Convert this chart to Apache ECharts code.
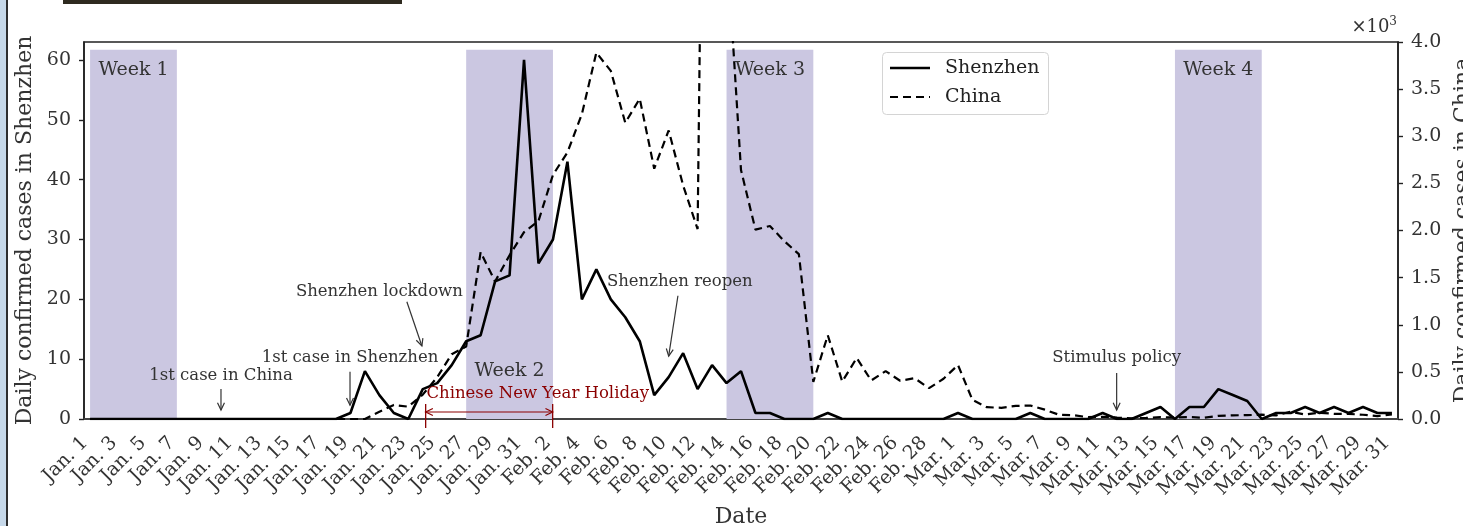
<!DOCTYPE html>
<html><head><meta charset="utf-8">
<script src="https://cdn.jsdelivr.net/npm/echarts@6/dist/echarts.min.js"></script>
<style>html,body{margin:0;padding:0;background:#fff;overflow:hidden}#c{width:1463px;height:526px}</style>
</head><body><div id="c"></div>
<script>
// ---------- data ----------
const dates = [
 'Jan. 1','Jan. 2','Jan. 3','Jan. 4','Jan. 5','Jan. 6','Jan. 7','Jan. 8','Jan. 9','Jan. 10',
 'Jan. 11','Jan. 12','Jan. 13','Jan. 14','Jan. 15','Jan. 16','Jan. 17','Jan. 18','Jan. 19','Jan. 20',
 'Jan. 21','Jan. 22','Jan. 23','Jan. 24','Jan. 25','Jan. 26','Jan. 27','Jan. 28','Jan. 29','Jan. 30','Jan. 31',
 'Feb. 1','Feb. 2','Feb. 3','Feb. 4','Feb. 5','Feb. 6','Feb. 7','Feb. 8','Feb. 9','Feb. 10',
 'Feb. 11','Feb. 12','Feb. 13','Feb. 14','Feb. 15','Feb. 16','Feb. 17','Feb. 18','Feb. 19','Feb. 20',
 'Feb. 21','Feb. 22','Feb. 23','Feb. 24','Feb. 25','Feb. 26','Feb. 27','Feb. 28','Feb. 29',
 'Mar. 1','Mar. 2','Mar. 3','Mar. 4','Mar. 5','Mar. 6','Mar. 7','Mar. 8','Mar. 9','Mar. 10',
 'Mar. 11','Mar. 12','Mar. 13','Mar. 14','Mar. 15','Mar. 16','Mar. 17','Mar. 18','Mar. 19','Mar. 20',
 'Mar. 21','Mar. 22','Mar. 23','Mar. 24','Mar. 25','Mar. 26','Mar. 27','Mar. 28','Mar. 29','Mar. 30','Mar. 31'
];
const tickDays = [0,2,4,6,8,10,12,14,16,18,20,22,24,26,28,30,32,34,36,38,40,42,44,46,48,50,52,54,56,58,60,62,64,66,68,70,72,74,76,78,80,82,84,86,88,90];
const leftTicks = [0,10,20,30,40,50,60];
const shenzhen = [
 0,0,0,0,0,0,0,0,0,0, 0,0,0,0,0,0,0,0,1,8,
 4,1,0,5,6,9,13,14,23,24, 60,26,30,43,20,25,20,17,13,4,
 7,11,5,9,6,8,1,1,0,0, 0,1,0,0,0,0,0,0,0,0,
 1,0,0,0,0,1,0,0,0,0, 1,0,0,1,2,0,2,2,5,4,
 3,0,1,1,2,1,2,1,2,1, 1
];
const china = [
 0,0,0,0,0,0,0,0,0,0, 0,0,0,0,0,0,0,0,0,0,
 77,149,131,259,444,688,769,1771,1459,1737, 1982,2102,2590,2829,3235,3887,3694,3143,3399,2656,
 3062,2478,2015,15152,5090,2641,2009,2048,1886,1749, 394,889,397,648,409,508,406,433,327,427,
 573,202,125,119,139,143,99,44,40,19, 24,15,8,11,20,16,21,13,34,39,
 41,46,39,78,47,67,55,54,45,31, 48
];
const weekNames = ['Week 1','Week 2','Week 3','Week 4'];
const weekStartDay = [0,26,44,75];
const weekEndDay = [6,32,50,81];
const seriesNames = ['Shenzhen','China'];

// ---------- chart ----------
const FF = "'DejaVu Serif', serif";
const TXT = '#333';
const chart = echarts.init(document.getElementById('c'), null, {renderer:'canvas'});

const bandTop = 61.7;
const areas = weekNames.map((n,i)=>[
  {name:n, coord:[weekStartDay[i],0],
   label: i===1 ? {position:'insideBottom', distance:38} : {position:'insideTop', distance:11}},
  {coord:[weekEndDay[i],bandTop]}
]);
const chinaDash = [8,5];

chart.setOption({
  animation:false,
  backgroundColor:'#fff',
  grid:{left:84, right:65, top:42, bottom:107, containLabel:false, outerBoundsMode:'none',
        show:true, borderColor:'#222', borderWidth:1.6, backgroundColor:'rgba(0,0,0,0)'},
  xAxis:{
    type:'value', min:-0.42, max:90.42,
    axisLine:{show:true, onZero:false, lineStyle:{color:'#444', width:2}},
    axisTick:{show:false},
    splitLine:{show:false},
    axisLabel:{customValues:tickDays, formatter:v=>dates[v], rotate:45, fontFamily:FF, fontSize:19, color:TXT, margin:16, padding:[0,7,0,0]},
    name:'Date', nameLocation:'middle', nameGap:86,
    nameTextStyle:{fontFamily:FF, fontSize:22, color:TXT}
  },
  yAxis:[{
    type:'value', min:0, max:63, position:'left',
    axisLine:{show:true, onZero:false, lineStyle:{color:'#222', width:1.6}},
    axisTick:{show:true, inside:false, length:5, customValues:leftTicks, lineStyle:{color:'#222', width:1.4}},
    axisLabel:{customValues:leftTicks, fontFamily:FF, fontSize:19, color:TXT, margin:13},
    splitLine:{show:false},
    name:'Daily confirmed cases in Shenzhen', nameLocation:'middle', nameGap:38,
    nameTextStyle:{fontFamily:FF, fontSize:22, color:TXT}
  },{
    type:'value', min:0, max:4000, interval:500, position:'right',
    axisLine:{show:true, onZero:false, lineStyle:{color:'#222', width:1.6}},
    axisTick:{show:true, inside:false, length:5, lineStyle:{color:'#222', width:1.4}},
    axisLabel:{formatter:v=>(v/1000).toFixed(1), fontFamily:FF, fontSize:19, color:TXT, margin:13},
    splitLine:{show:false},
    name:'Daily confirmed cases in China', nameLocation:'middle', nameGap:54, nameRotate:90,
    nameTextStyle:{fontFamily:FF, fontSize:22, color:TXT}
  }],
  series:[{
    name:seriesNames[0], type:'line', yAxisIndex:0, symbol:'none', showSymbol:false, z:4,
    data:shenzhen.map((v,i)=>[i,v]),
    lineStyle:{color:'#000', width:2.6}, itemStyle:{color:'#000'},
    markArea:{silent:true, z:1, itemStyle:{color:'#cbc7e1'},
      label:{fontFamily:FF, fontSize:19, color:TXT},
      data:areas}
  },{
    name:seriesNames[1], type:'line', yAxisIndex:1, symbol:'none', showSymbol:false, z:3,
    data:china.map((v,i)=>[i,v]),
    lineStyle:{color:'#000', width:2.2, type:chinaDash}, itemStyle:{color:'#000'}
  }]
});

// ---------- annotations (anchored in data space of the left axis) ----------
function P(d,v){ return chart.convertToPixel({xAxisIndex:0, yAxisIndex:0},[d,v]); }
function head(tip, from, color, w){
  const ang = Math.atan2(tip[1]-from[1], tip[0]-from[0]);
  const L = 8, a = 0.45;
  return {type:'polyline', z:50, shape:{points:[
    [tip[0]-L*Math.cos(ang-a), tip[1]-L*Math.sin(ang-a)], tip,
    [tip[0]-L*Math.cos(ang+a), tip[1]-L*Math.sin(ang+a)]]},
    style:{stroke:color, lineWidth:w, fill:null}};
}
function arrow(d1,v1,d2,v2,color){
  const a=P(d1,v1), b=P(d2,v2);
  return [{type:'line', z:50, shape:{x1:a[0],y1:a[1],x2:b[0],y2:b[1]}, style:{stroke:color, lineWidth:1.2}}, head(b,a,color,1.2)];
}
function label(text,d,v,color,align){
  const p=P(d,v);
  return {type:'text', z:50, x:p[0], y:p[1], style:{text:text, font:"16.5px 'DejaVu Serif', serif", fill:color||TXT, align:align||'center', verticalAlign:'middle'}};
}
const RED = '#8b0000';
const g = [];
g.push(label('1st case in China', 9.05, 7.2));
g.push(...arrow(9.05,5.0, 9.05,1.5, TXT));
g.push(label('1st case in Shenzhen', 17.97, 10.2));
g.push(...arrow(17.97,7.9, 17.97,2.3, TXT));
g.push(label('Shenzhen lockdown', 20.0, 21.2));
g.push(...arrow(21.9,19.6, 22.94,12.2, TXT));
g.push(label('Shenzhen reopen', 40.77, 22.9));
g.push(...arrow(40.64,20.6, 40.0,10.5, TXT));
g.push(label('Stimulus policy', 70.97, 10.2));
g.push(...arrow(70.97,7.7, 70.97,1.5, TXT));
g.push(label('Chinese New Year Holiday', 23.25, 4.2, RED, 'left'));
// holiday span
(function(){
  const a=P(23.2,1.17), b=P(31.98,1.17);
  g.push({type:'line', z:50, shape:{x1:a[0],y1:a[1],x2:b[0],y2:b[1]}, style:{stroke:RED, lineWidth:1.2}});
  g.push(head(a,b,RED,1.2)); g.push(head(b,a,RED,1.2));
  [23.2,31.98].forEach(d=>{const t=P(d,2.5), u=P(d,-1.5);
    g.push({type:'line', z:50, shape:{x1:t[0],y1:t[1],x2:u[0],y2:u[1]}, style:{stroke:RED, lineWidth:1.3}});});
})();
// legend (drawn as a boxed key)
(function(){
  const x0=882, y0=52, w=166, h=62;
  g.push({type:'rect', z:40, shape:{x:x0+0.5,y:y0+0.5,width:w,height:h,r:4}, style:{fill:'#fff', stroke:'#d4d4d4', lineWidth:1}});
  const rows=[{y:y0+16, dash:null, w:2.6},{y:y0+45, dash:chinaDash, w:2.2}];
  rows.forEach((r,i)=>{
    g.push({type:'line', z:41, shape:{x1:x0+8,y1:r.y,x2:x0+48,y2:r.y}, style:{stroke:'#000', lineWidth:r.w, lineDash:r.dash||null}});
    g.push({type:'text', z:41, x:x0+63, y:r.y, style:{text:seriesNames[i], font:"19px 'DejaVu Serif', serif", fill:'#222', align:'left', verticalAlign:'middle'}});
  });
})();
// x10^3 multiplier
g.push({type:'text', z:50, right:66, top:16, style:{text:'×10{s|3}', font:"18px 'DejaVu Serif', serif", fill:TXT,
  rich:{s:{fontSize:12, verticalAlign:'top', padding:[0,0,10,0], fontFamily:FF, fill:TXT}}}});
// page decorations (frame fragments of the source figure)
g.push({type:'rect', z:60, shape:{x:0,y:0,width:6,height:526}, style:{fill:'#c7d9ea'}});
g.push({type:'rect', z:60, shape:{x:6,y:0,width:2,height:526}, style:{fill:'#2f2f2f'}});
g.push({type:'rect', z:60, shape:{x:63,y:0,width:339,height:4}, style:{fill:'#2e2a1f'}});
chart.setOption({graphic:g});
</script></body></html>
